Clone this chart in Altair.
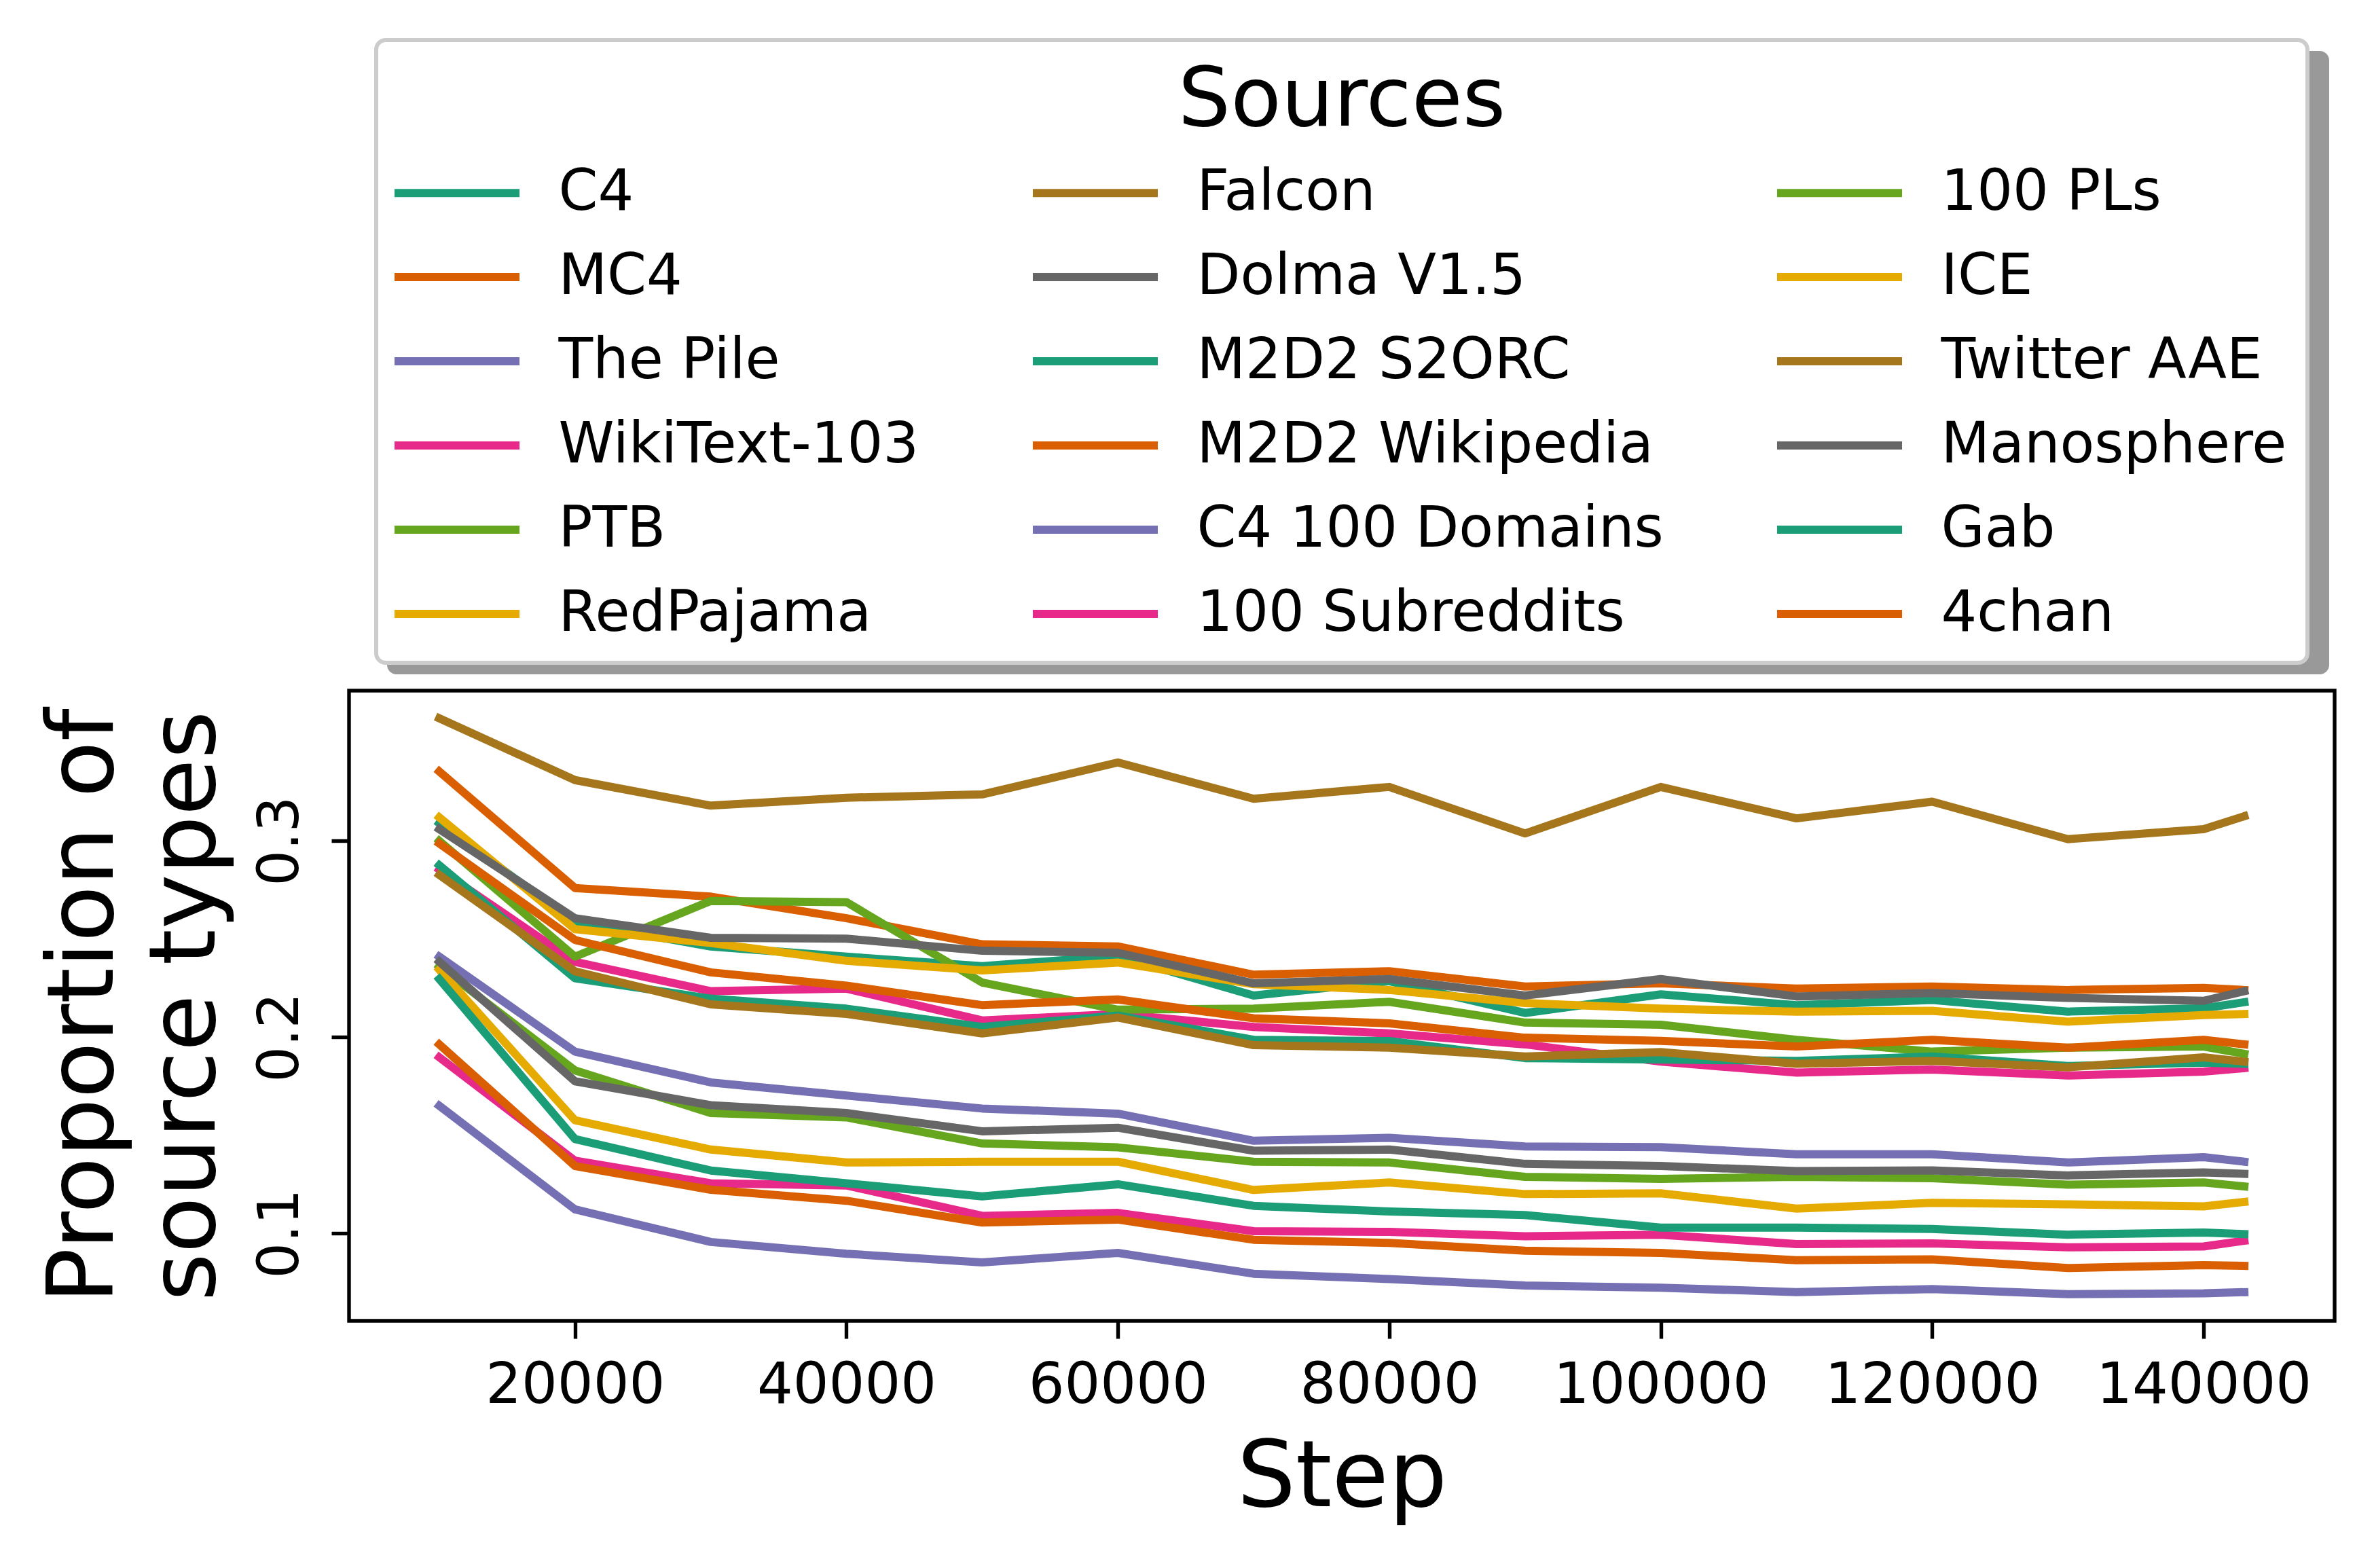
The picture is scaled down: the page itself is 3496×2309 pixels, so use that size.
import altair as alt
import pandas as pd

steps = [10000, 20000, 30000, 40000, 50000, 60000, 70000, 80000, 90000,
         100000, 110000, 120000, 130000, 140000, 143000]

sources = ["C4", "MC4", "The Pile", "WikiText-103", "PTB", "RedPajama",
           "Falcon", "Dolma V1.5", "M2D2 S2ORC", "M2D2 Wikipedia",
           "C4 100 Domains", "100 Subreddits", "100 PLs", "ICE",
           "Twitter AAE", "Manosphere", "Gab", "4chan"]

dark2 = ["#1b9e77", "#d95f02", "#7570b3", "#e7298a",
         "#66a61e", "#e6ab02", "#a6761d", "#666666"]

c4 = [0.309, 0.2584, 0.2462, 0.241, 0.2362, 0.2413, 0.2212, 0.2285, 0.2123, 0.2218, 0.2163, 0.2189, 0.213, 0.2147, 0.2178]
mc4 = [0.3354, 0.276, 0.2716, 0.2606, 0.2473, 0.2462, 0.2318, 0.2336, 0.2258, 0.2274, 0.2247, 0.2258, 0.224, 0.2251, 0.224]
the_pile = [0.241, 0.1926, 0.1769, 0.1702, 0.1636, 0.161, 0.1472, 0.1487, 0.1443, 0.1439, 0.1403, 0.1403, 0.1361, 0.1388, 0.1365]
wikitext = [0.2854, 0.2384, 0.2234, 0.2247, 0.2085, 0.2118, 0.2052, 0.2019, 0.1963, 0.1875, 0.1819, 0.1835, 0.1804, 0.1824, 0.1842]
ptb = [0.300, 0.241, 0.2694, 0.2688, 0.2278, 0.214, 0.2145, 0.218, 0.2074, 0.2063, 0.1986, 0.1926, 0.1946, 0.1952, 0.1915]
redpajama = [0.312, 0.255, 0.248, 0.2389, 0.234, 0.238, 0.227, 0.224, 0.2174, 0.2145, 0.213, 0.2134, 0.2079, 0.2112, 0.2118]
falcon = [0.3625, 0.331, 0.318, 0.322, 0.3237, 0.340, 0.3215, 0.3275, 0.3038, 0.3275, 0.3115, 0.320, 0.3009, 0.306, 0.3126]
dolma = [0.306, 0.2606, 0.2506, 0.2502, 0.244, 0.243, 0.2274, 0.2296, 0.2212, 0.2296, 0.2207, 0.2225, 0.220, 0.2185, 0.2234]
m2d2_s2orc = [0.2876, 0.230, 0.2196, 0.2145, 0.2052, 0.211, 0.1986, 0.198, 0.1893, 0.1886, 0.1879, 0.1901, 0.1853, 0.187, 0.1864]
m2d2_wiki = [0.2987, 0.2495, 0.233, 0.2262, 0.2163, 0.2192, 0.2096, 0.207, 0.1997, 0.1981, 0.1952, 0.1986, 0.1946, 0.1986, 0.1963]
c4_domains = [0.165, 0.1122, 0.0956, 0.0896, 0.0852, 0.090, 0.0794, 0.0767, 0.0734, 0.0723, 0.070, 0.0716, 0.069, 0.0694, 0.070]
subreddits = [0.1897, 0.137, 0.1255, 0.1244, 0.1089, 0.1104, 0.1011, 0.1007, 0.0985, 0.0993, 0.0945, 0.0949, 0.0929, 0.0933, 0.0962]
pls = [0.236, 0.183, 0.1613, 0.1591, 0.1458, 0.1438, 0.1365, 0.1361, 0.1288, 0.1277, 0.1288, 0.1281, 0.1248, 0.1259, 0.1239]
ice = [0.2344, 0.1576, 0.1427, 0.1361, 0.1365, 0.1365, 0.1221, 0.1259, 0.120, 0.1204, 0.1126, 0.1155, 0.1148, 0.1137, 0.116]
twitter_aae = [0.2827, 0.2335, 0.2167, 0.2118, 0.2019, 0.210, 0.1959, 0.1946, 0.1901, 0.1924, 0.1864, 0.1879, 0.1846, 0.1897, 0.1875]
manosphere = [0.2384, 0.1775, 0.1653, 0.1613, 0.152, 0.1538, 0.1421, 0.1427, 0.1354, 0.1343, 0.1317, 0.1321, 0.1295, 0.131, 0.1303]
gab = [0.2296, 0.148, 0.132, 0.1255, 0.1188, 0.125, 0.114, 0.1111, 0.1093, 0.1029, 0.1029, 0.1022, 0.0993, 0.1004, 0.0996]
fourchan = [0.1963, 0.1343, 0.1222, 0.1166, 0.1055, 0.107, 0.0967, 0.0951, 0.0911, 0.090, 0.0863, 0.0867, 0.0823, 0.0838, 0.0834]

series = [c4, mc4, the_pile, wikitext, ptb, redpajama, falcon, dolma,
          m2d2_s2orc, m2d2_wiki, c4_domains, subreddits, pls, ice,
          twitter_aae, manosphere, gab, fourchan]

x_ticks = [20000, 40000, 60000, 80000, 100000, 120000, 140000]
y_ticks = [0.1, 0.2, 0.3]

rows = []
for name, vals in zip(sources, series):
    for s, v in zip(steps, vals):
        rows.append({"Source": name, "Step": s, "Proportion": v})
df = pd.DataFrame(rows)

colors = [dark2[i % len(dark2)] for i in range(len(sources))]

FONT = "DejaVu Sans"
W, H = 2924, 928
LX, LY = 40, -958
LW, LH = 2860, 918

lines = alt.Chart(df).mark_line(strokeWidth=12, strokeJoin="round", strokeCap="square").encode(
    x=alt.X("Step:Q",
            scale=alt.Scale(domain=[3350, 149650], nice=False, zero=False),
            axis=alt.Axis(values=x_ticks, format="d", grid=False, domain=False,
                          labelFontSize=83, labelFont=FONT, labelColor="black",
                          labelPadding=28, labelOverlap=False, labelFlush=False,
                          labelLimit=2000,
                          tickSize=26, tickWidth=5.4, tickColor="black",
                          title="Step", titleFontSize=136, titleFont=FONT,
                          titleFontWeight="normal", titleColor="black",
                          titleX=W / 2, titleY=272, titleAlign="center",
                          titleBaseline="alphabetic")),
    y=alt.Y("Proportion:Q",
            scale=alt.Scale(domain=[0.0554, 0.3766], nice=False, zero=False),
            axis=alt.Axis(values=y_ticks, format=".1f", grid=False, domain=False,
                          labelFontSize=83, labelFont=FONT, labelColor="black",
                          labelAngle=270, labelAlign="center", labelBaseline="bottom",
                          labelPadding=33, labelOverlap=False, labelLimit=2000,
                          tickSize=26, tickWidth=5.4, tickColor="black",
                          title=["Proportion of", "source types"],
                          titleFontSize=136, titleFont=FONT, titleFontWeight="normal",
                          titleColor="black", titleAngle=270, titleX=-349, titleY=H / 2,
                          titleAlign="center", titleBaseline="alphabetic",
                          titleLineHeight=150)),
    color=alt.Color("Source:N",
                    scale=alt.Scale(domain=sources, range=colors),
                    legend=alt.Legend(title="Sources", orient="none",
                                      legendX=LX, legendY=LY, columns=3,
                                      symbolType="M-1.5,0H1.5", symbolSize=15055,
                                      symbolStrokeWidth=12, symbolOffset=21.5,
                                      labelFontSize=83, labelFont=FONT,
                                      labelColor="black", labelLimit=3000,
                                      labelOffset=82,
                                      titleFontSize=122, titleFont=FONT,
                                      titleFontWeight="normal", titleColor="black",
                                      titleAnchor="middle", titlePadding=5.5,
                                      titleLimit=3000,
                                      rowPadding=14, columnPadding=142,
                                      padding=30, strokeColor="#cccccc",
                                      fillColor="white", cornerRadius=14,
                                      gridAlign="each")),
    detail="Source:N",
)

shadow = alt.Chart(pd.DataFrame({"k": [0]})).mark_rect(
    color="#999999", cornerRadius=14
).encode(
    x=alt.value(LX + 16), x2=alt.value(LX + 16 + LW),
    y=alt.value(LY + 16), y2=alt.value(LY + 16 + LH),
)

chart = alt.layer(shadow, lines).properties(
    width=W, height=H,
    autosize=alt.AutoSizeParams(type="none"),
    padding={"left": 506, "top": 1009, "right": 50, "bottom": 320},
    background="white",
).configure_view(
    stroke="black", strokeWidth=5.4
).configure_legend(
    strokeWidth=6
)

chart.save("out.html", embed_options={"renderer": "svg", "actions": False})
